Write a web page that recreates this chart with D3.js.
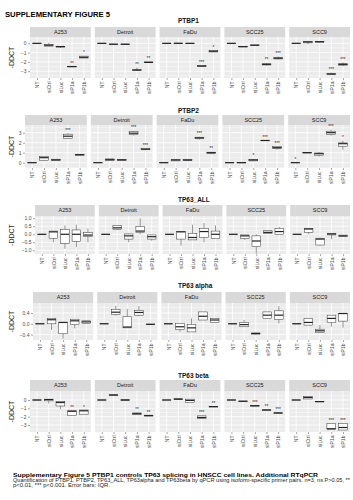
<!DOCTYPE html>
<html><head><meta charset="utf-8">
<script src="https://cdn.jsdelivr.net/npm/d3@7"></script>
<style>body{margin:0;background:#fff}svg{display:block}</style>
</head><body>
<script>
// ---- data ----
const categories = ["NT","siCtrl","siLuc","siP1a","siP1b"];
const cellLines = ["A253","Detroit","FaDu","SCC25","SCC9"];
const genes = ["PTBP1","PTBP2","TP63_ALL","TP63 alpha","TP63 beta"];
// each box: [min, q1, median, q3, max] per category, per cell line
const ptbp1 = [
 [[0,0,0,0,0],[-0.35,-0.3,-0.2,-0.1,0.05],[-0.5,-0.4,-0.35,-0.33,-0.3],[-2.55,-2.53,-2.5,-2.47,-2.45],[-1.6,-1.58,-1.5,-1.38,-1.35]],
 [[0,0,0,0,0],[-0.12,-0.12,-0.1,-0.08,-0.08],[-0.12,-0.12,-0.1,-0.08,-0.08],[-2.92,-2.9,-2.87,-2.85,-2.6],[-2.1,-2.08,-2.05,-2.0,-1.98]],
 [[0,0,0,0,0],[-0.05,-0.02,0,0.02,0.03],[-0.02,-0.01,0,0.01,0.02],[-2.5,-2.5,-2.44,-2.38,-2.38],[-0.95,-0.93,-0.85,-0.78,-0.75]],
 [[0,0,0,0,0],[-0.4,-0.38,-0.36,-0.34,-0.33],[-0.25,-0.23,-0.2,-0.18,-0.16],[-2.4,-2.33,-2.26,-2.2,-2.1],[-1.75,-1.68,-1.6,-1.55,-1.4]],
 [[0,0,0,0,0],[-0.1,0.05,0.15,0.22,0.25],[0.12,0.14,0.16,0.18,0.2],[-3.4,-3.35,-3.3,-3.22,-3.15],[-2.45,-2.35,-2.26,-2.2,-2.05]]
];
const ptbp2 = [
 [[0,0,0,0,0],[0.2,0.25,0.5,0.62,0.62],[0.22,0.22,0.28,0.35,0.35],[2.4,2.45,2.65,2.85,2.95],[0.72,0.75,0.8,0.85,0.85]],
 [[0,0,0,0,0],[0.2,0.22,0.3,0.38,0.38],[0.25,0.25,0.28,0.3,0.3],[2.7,2.8,2.95,3.1,3.2],[1.25,1.3,1.35,1.45,1.45]],
 [[0,0,0,0,0],[0.15,0.18,0.27,0.33,0.35],[0.15,0.2,0.27,0.33,0.35],[2.3,2.4,2.48,2.55,2.6],[0.85,0.92,1.0,1.05,1.1]],
 [[0,0,0,0,0],[-0.02,-0.01,0,0.01,0.02],[0.15,0.18,0.27,0.33,0.38],[2.18,2.2,2.22,2.24,2.25],[1.3,1.4,1.5,1.62,1.65]],
 [[0,0,0,0,0],[0.95,0.98,1.0,1.02,1.03],[0.6,0.75,0.9,0.97,1.05],[2.7,2.8,3.0,3.15,3.3],[1.3,1.65,1.9,1.98,2.2]]
];
const tp63All = [
 [[0,0,0,0,0],[-0.5,-0.25,0.15,0.2,0.2],[-0.9,-0.56,0,0.31,0.55],[-0.8,-0.44,0,0.27,0.6],[-0.5,-0.15,-0.05,0.1,0.35]],
 [[0,0,0,0,0],[0.27,0.3,0.4,0.54,0.54],[-0.5,-0.3,-0.1,0.02,0.05],[0,0.1,0.2,0.48,1.0],[-0.4,-0.3,-0.15,-0.04,-0.04]],
 [[0,0,0,0,0],[-0.7,-0.3,0.15,0.17,0.17],[-0.35,-0.35,-0.2,0.06,0.6],[-0.5,-0.2,0.17,0.37,0.7],[-0.25,-0.25,0.0,0.2,0.55]],
 [[0,0,0,0,0],[-0.35,-0.25,-0.1,-0.04,-0.04],[-1.2,-0.77,-0.42,-0.1,0],[0.06,0.06,0.12,0.22,0.22],[0,0,0.17,0.37,0.45]],
 [[0,0,0,0,0],[0,0.12,0.33,0.37,0.37],[-0.7,-0.67,-0.3,-0.25,-0.2],[-0.3,-0.04,0.02,0.06,0.06],[-0.12,-0.12,-0.1,-0.05,-0.05]]
];
const tp63Alpha = [
 [[0,0,0,0,0],[-0.23,0,0.15,0.19,0.19],[-0.55,-0.37,0.05,0.05,0.05],[-0.17,-0.03,0.11,0.17,0.17],[0.01,0.01,0.07,0.11,0.11]],
 [[0,0,0,0,0],[0.3,0.34,0.43,0.53,0.66],[-0.15,-0.15,-0.12,0.26,0.55],[0.28,0.32,0.42,0.5,0.65],[-0.03,-0.03,-0.02,-0.01,-0.01]],
 [[0,0,0,0,0],[-0.3,-0.21,-0.11,0.01,0.01],[-0.3,-0.3,-0.15,-0.03,0.2],[0.14,0.14,0.28,0.44,0.44],[0.05,0.05,0.14,0.2,0.2]],
 [[0,0,0,0,0],[-0.11,-0.11,-0.03,0.05,0.14],[-0.4,-0.38,-0.36,-0.34,-0.33],[0.2,0.2,0.32,0.44,0.44],[0.01,0.16,0.32,0.48,0.65]],
 [[0,0,0,0,0],[-0.05,-0.05,0.05,0.2,0.2],[-0.33,-0.33,-0.26,-0.2,-0.05],[-0.1,0.04,0.2,0.32,0.32],[-0.14,0.1,0.38,0.38,0.38]]
];
const tp63Beta = [
 [[0,0,0,0,0],[-0.4,-0.1,0.05,0.1,0.1],[-1.1,-0.72,-0.3,-0.2,-0.2],[-1.87,-1.87,-1.35,-1.3,-1.3],[-1.7,-1.7,-1.3,-1.2,-1.2]],
 [[0,0,0,0,0],[0.55,0.57,0.6,0.62,0.63],[-0.05,-0.03,0,0.03,0.05],[-1.75,-1.72,-1.65,-1.55,-1.5],[-1.95,-1.92,-1.87,-1.82,-1.8]],
 [[0,0,0,0,0],[0.05,0.07,0.1,0.15,0.18],[-0.3,-0.3,-0.05,0.1,0.1],[-2.2,-2.2,-2.1,-1.9,-1.9],[-0.85,-0.83,-0.8,-0.75,-0.72]],
 [[0,0,0,0,0],[-0.18,-0.17,-0.15,-0.13,-0.12],[-0.73,-0.72,-0.7,-0.68,-0.67],[-1.23,-1.22,-1.2,-1.18,-1.17],[-1.6,-1.58,-1.56,-1.54,-1.5]],
 [[0,0,0,0,0],[0.12,0.12,0.3,0.4,0.4],[-0.22,-0.21,-0.2,-0.19,-0.18],[-3.5,-3.5,-3.45,-2.8,-2.8],[-3.6,-3.6,-3.3,-2.8,-2.8]]
];
// significance labels per cell line, per category
const sigPtbp1 = [["","","","**","*"],["","","","**","**"],["","","","***","*"],["","","","**","***"],["","","","***","***"]];
const sigPtbp2 = [["","","","***",""],["","","","***","***"],["","","","***","**"],["","","*","***","***"],["*","","","***","*"]];
const sigNone = [["","","","",""],["","","","",""],["","","","",""],["","","","",""],["","","","",""]];
const sigBeta = [["","","","**","*"],["","","","**","**"],["","","","***","**"],["","","***","**","***"],["","","","***","***"]];
const yTicks1 = [0,-1,-2,-3];
const yTicks2 = [0,1,2,3];
const yTicks3 = [-1,-0.5,0,0.5,1];
const yTicks4 = [-0.4,0,0.4];
const yTicks5 = [0,-1,-2,-3];
const yDomains = [[-3.73,0.68],[-0.53,3.77],[-1.23,1.14],[-0.6,0.77],[-3.84,1.08]];
const tickFormats = [d3.format("d"), d3.format("d"), d3.format(".1f"), d3.format(".1f"), d3.format("d")];

// ---- layout ----
const W = 353, H = 500;
const rowLayout = [
 {L:30, titleY:23, stripTop:27, stripBot:37, plotBot:78},
 {L:25, titleY:113, stripTop:115, stripBot:125, plotBot:168},
 {L:35, titleY:202, stripTop:205, stripBot:216, plotBot:254},
 {L:33, titleY:288, stripTop:292, stripBot:303, plotBot:340},
 {L:30, titleY:378, stripTop:380, stripBot:391, plotBot:432}
];
const rowData = [ptbp1, ptbp2, tp63All, tp63Alpha, tp63Beta];
const rowSig = [sigPtbp1, sigPtbp2, sigNone, sigNone, sigBeta];
const rowTicks = [yTicks1, yTicks2, yTicks3, yTicks4, yTicks5];
const R = 350, gap = 4;
const font = "'Liberation Sans', Arial, sans-serif";

const svg = d3.select("body").append("svg").attr("width", W).attr("height", H)
  .style("font-family", font);

svg.append("text").attr("x", 5).attr("y", 17).attr("font-size", 8).attr("font-weight", "bold")
  .attr("textLength", 105).attr("lengthAdjust","spacingAndGlyphs")
  .text("SUPPLEMENTARY FIGURE 5");

const defs = svg.append("defs");
const grad = defs.append("linearGradient").attr("id","lineGrad");
grad.append("stop").attr("offset","0%").attr("stop-color","#dddddd");
grad.append("stop").attr("offset","45%").attr("stop-color","#555555");
grad.append("stop").attr("offset","100%").attr("stop-color","#111111");

rowLayout.forEach((lay, ri) => {
  const g = svg.append("g");
  const pw = (R - lay.L - gap*4) / 5;
  const y = d3.scaleLinear().domain(yDomains[ri]).range([lay.plotBot, lay.stripBot]);
  const ticks = rowTicks[ri];
  // row title
  g.append("text").attr("x", 178).attr("y", lay.titleY).attr("font-size", 6.5)
    .attr("font-weight","bold").attr("fill","#111").text(genes[ri]);
  g.append("line").attr("x1", lay.L).attr("x2", R+3).attr("y1", lay.stripTop-0.5).attr("y2", lay.stripTop-0.5)
    .attr("stroke","url(#lineGrad)").attr("stroke-width",1);
  // y label
  const midY = (lay.stripBot + lay.plotBot)/2;
  g.append("text").attr("transform", `translate(14,${midY}) rotate(-90)`).attr("text-anchor","middle")
    .attr("font-size", 7).attr("fill","#222").text("-DDCT");
  // y axis ticks + labels
  const yAxis = d3.axisLeft(y).tickValues(ticks).tickFormat(tickFormats[ri]).tickSize(2).tickPadding(1.5);
  const ya = g.append("g").attr("transform", `translate(${lay.L},0)`).call(yAxis);
  ya.select(".domain").remove();
  ya.selectAll("text").attr("font-size", 5).attr("fill","#4d4d4d").attr("font-family", font);
  ya.selectAll("line").attr("stroke","#4d4d4d").attr("stroke-width",0.5);

  const sorted = ticks.slice().sort((a,b)=>a-b);
  const step = sorted[1]-sorted[0];
  const minor = [];
  for (let v = sorted[0]-step/2; v <= yDomains[ri][1]; v += step) if (v >= yDomains[ri][0]) minor.push(v);

  cellLines.forEach((cl, ci) => {
    const x0 = lay.L + ci*(pw+gap), x1 = x0 + pw;
    const x = d3.scalePoint().domain(categories).range([x0, x1]).padding(0.6);
    const bw = x.step()*0.75;
    const p = g.append("g");
    // strip
    p.append("rect").attr("x", x0).attr("y", lay.stripTop).attr("width", pw).attr("height", lay.stripBot-lay.stripTop)
      .attr("fill","#d9d9d9");
    p.append("text").attr("x", (x0+x1)/2).attr("y", (lay.stripTop+lay.stripBot)/2+1.8).attr("text-anchor","middle")
      .attr("font-size",5.5).attr("fill","#1a1a1a").text(cl);
    // panel
    p.append("rect").attr("x", x0).attr("y", lay.stripBot).attr("width", pw).attr("height", lay.plotBot-lay.stripBot)
      .attr("fill","#ebebeb");
    p.selectAll(".minor").data(minor).join("line").attr("x1",x0).attr("x2",x1)
      .attr("y1",d=>y(d)).attr("y2",d=>y(d)).attr("stroke","#fff").attr("stroke-width",0.4);
    p.selectAll(".major").data(ticks).join("line").attr("x1",x0).attr("x2",x1)
      .attr("y1",d=>y(d)).attr("y2",d=>y(d)).attr("stroke","#fff").attr("stroke-width",0.8);
    p.selectAll(".vg").data(categories).join("line").attr("x1",d=>x(d)).attr("x2",d=>x(d))
      .attr("y1",lay.stripBot).attr("y2",lay.plotBot).attr("stroke","#fff").attr("stroke-width",0.8);
    // boxes
    const boxes = rowData[ri][ci];
    categories.forEach((cat, k) => {
      const b = boxes[k];
      const cx = x(cat);
      p.append("line").attr("x1",cx).attr("x2",cx).attr("y1",y(b[0])).attr("y2",y(b[1]))
        .attr("stroke","#333").attr("stroke-width",0.5);
      p.append("line").attr("x1",cx).attr("x2",cx).attr("y1",y(b[3])).attr("y2",y(b[4]))
        .attr("stroke","#333").attr("stroke-width",0.5);
      p.append("rect").attr("x",cx-bw/2).attr("width",bw).attr("y",y(b[3]))
        .attr("height",Math.max(0.01,y(b[1])-y(b[3]))).attr("fill","#fff").attr("stroke","#333").attr("stroke-width",0.5);
      p.append("line").attr("x1",cx-bw/2).attr("x2",cx+bw/2).attr("y1",y(b[2])).attr("y2",y(b[2]))
        .attr("stroke","#222").attr("stroke-width",1.2);
      const s = rowSig[ri][ci][k];
      if (s) p.append("text").attr("x",cx).attr("y",y(b[4])-1.5).attr("text-anchor","middle")
        .attr("font-size",4.5).attr("fill","#222").text(s);
    });
    // x axis
    const xAxis = d3.axisBottom(x).tickSize(2).tickPadding(1.5);
    const xa = p.append("g").attr("transform",`translate(0,${lay.plotBot})`).call(xAxis);
    xa.select(".domain").remove();
    xa.selectAll("line").attr("stroke","#4d4d4d").attr("stroke-width",0.5);
    xa.selectAll("text").attr("font-size",5).attr("fill","#4d4d4d").attr("font-family",font)
      .attr("transform","rotate(-90)").attr("text-anchor","end").attr("dy","0.35em")
      .attr("x",-3.5).attr("y",0);
  });
});

// caption
svg.append("text").attr("x",13).attr("y",477).attr("font-size",5.5).attr("font-weight","bold")
  .attr("textLength",305).attr("lengthAdjust","spacingAndGlyphs")
  .text("Supplementary Figure 5 PTBP1 controls TP63 splicing in HNSCC cell lines. Additional RTqPCR");
svg.append("text").attr("x",13).attr("y",482).attr("font-size",5).attr("fill","#222")
  .attr("textLength",337).attr("lengthAdjust","spacingAndGlyphs")
  .text("Quantification of PTBP1, PTBP2, TP63_ALL, TP63alpha and TP63beta by qPCR using isoform-specific primer pairs. n=3, ns P>0.05, **");
svg.append("text").attr("x",13).attr("y",487).attr("font-size",5).attr("fill","#222")
  .attr("textLength",97).attr("lengthAdjust","spacingAndGlyphs")
  .text("p<0.01, *** p<0.001. Error bars: IQR.");
</script>
</body></html>
